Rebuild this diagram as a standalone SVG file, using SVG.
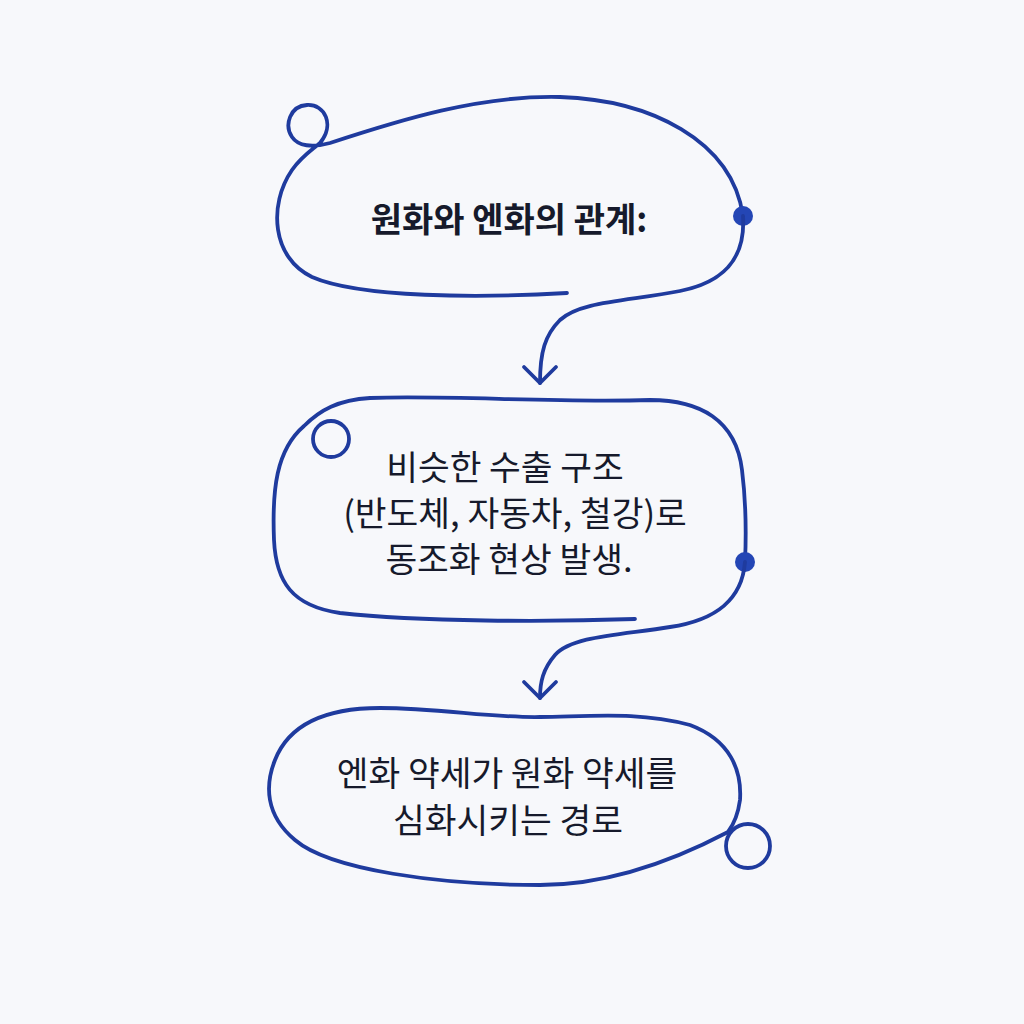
<svg xmlns="http://www.w3.org/2000/svg" width="1024" height="1024" viewBox="0 0 1024 1024">
<style>
.ln{fill:none;stroke:#1f3b9e;stroke-width:3.8;stroke-linecap:round;stroke-linejoin:round}
.dot{fill:#2446b5}
.t{font-family:"Noto Sans CJK KR","Noto Sans",sans-serif;font-size:34.5px;fill:#161a2b;text-anchor:middle;dominant-baseline:central}
.b{font-weight:700;font-size:34px}
</style>
<rect width="1024" height="1024" fill="#f7f8fb"/>
<g id="node1">
<path class="ln" d="M567 293 C480 298 360 298 312 277 C272 258 268 205 292 170 C302 156 312 150 320 143 C335 125 325 104 307 105 C290 106 284 125 292 137 C298 146 312 148 330 143 C400 120 480 95 560 97 C650 100 732 140 743 216"/>
<circle class="dot" cx="743" cy="216" r="10"/>
<text class="t b" x="509" y="217">원화와 엔화의 관계:</text>
</g>
<g id="node2">
<path class="ln" d="M635 619 C550 622 420 622 340 613 C292 606 276 582 274 540 C272 490 276 450 304 426 C320 410 338 400 370 398 C450 395 550 403 650 400 C700 400 736 420 742 470 C747 510 746 540 745 562"/>
<circle class="ln" cx="331" cy="439" r="18"/>
<circle class="dot" cx="745" cy="562" r="10"/>
<text class="t" x="505" y="465">비슷한 수출 구조</text>
<text class="t" x="515" y="511">(반도체, 자동차, 철강)로</text>
<text class="t" x="509" y="557">동조화 현상 발생.</text>
</g>
<g id="node3">
<path class="ln" d="M275 760 C290 722 330 708 380 708 C440 708 490 718 540 717 C600 716 640 712 690 725 C730 740 742 770 740 800 C738 815 734 824 728 832 C690 852 620 885 540 885 C440 885 330 870 295 840 C265 815 265 785 275 760 Z"/>
<circle class="ln" cx="748" cy="846" r="22"/>
<text class="t" x="507" y="771">엔화 약세가 원화 약세를</text>
<text class="t" x="508" y="818">심화시키는 경로</text>
</g>
<g id="connectors">
<path class="ln" d="M743 216 C746 262 720 283 680 291 C630 301 580 301 560 320 C545 335 540 352 540 383"/>
<path class="ln" d="M524 367 L540 383 L556 367"/>
<path class="ln" d="M745 562 C742 600 716 620 670 627 C620 635 572 636 555 655 C543 669 540 682 540 698"/>
<path class="ln" d="M524 682 L540 698 L556 682"/>
</g>
</svg>
